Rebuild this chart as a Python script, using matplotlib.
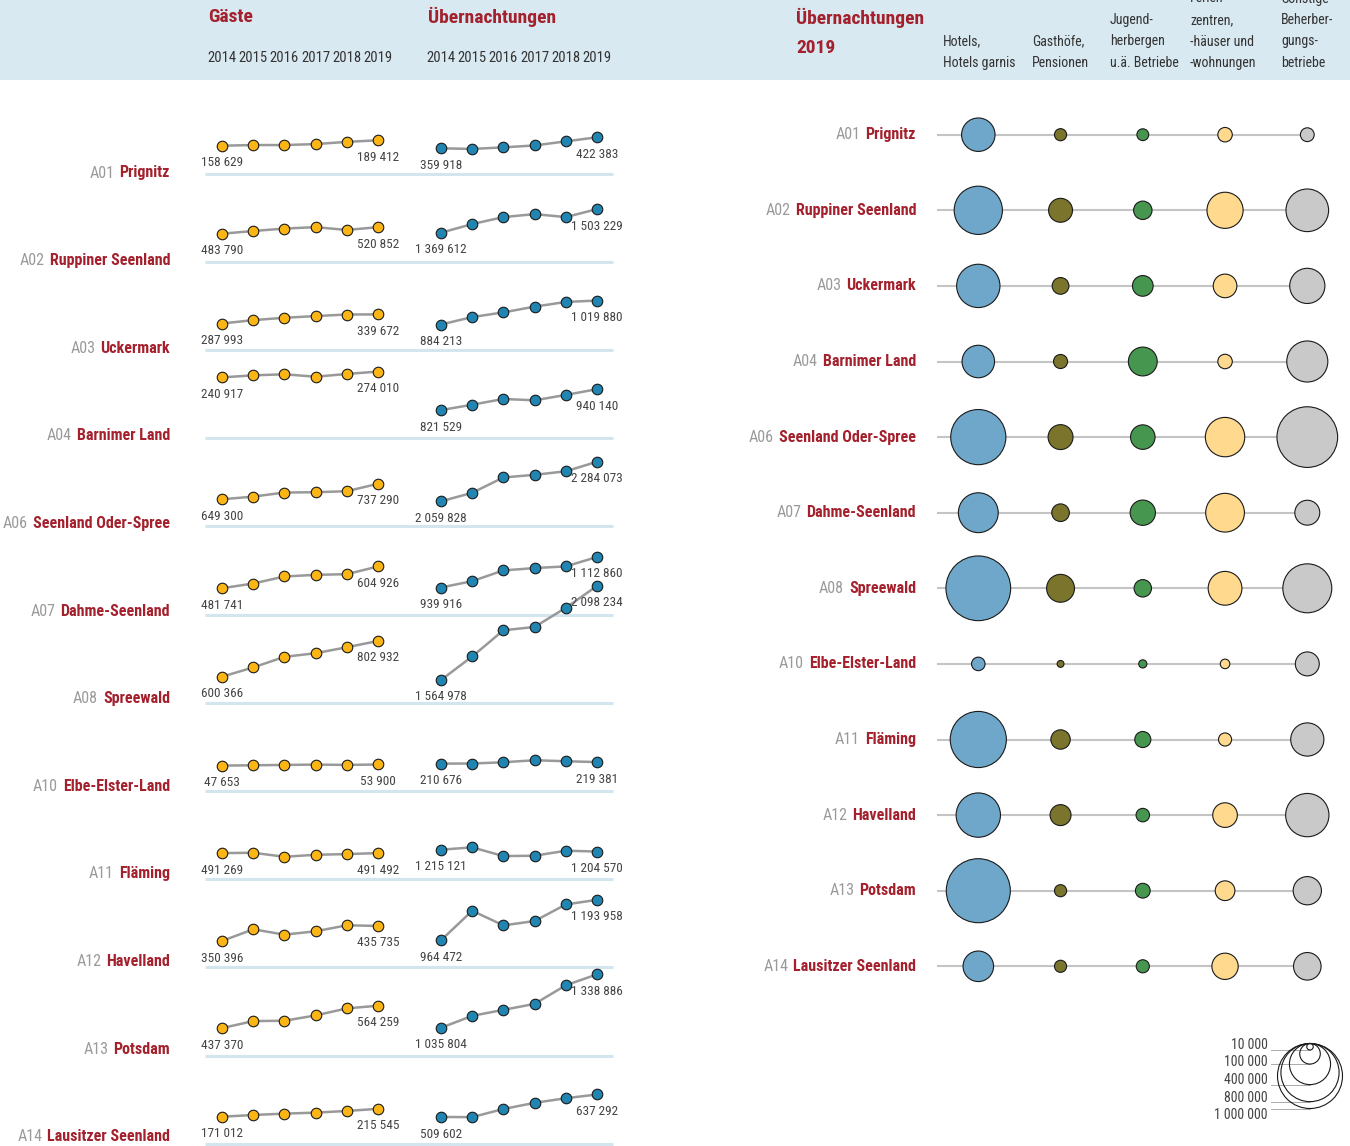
import numpy as np
import matplotlib
matplotlib.use('Agg')
import matplotlib.pyplot as plt
from matplotlib import font_manager
from matplotlib.patches import Rectangle

# pick a condensed face if one is there
_names = {f.name for f in font_manager.fontManager.ttflist}
FONT = 'DejaVu Sans'
for cand in ['Liberation Sans Narrow', 'Roboto Condensed', 'Open Sans Condensed']:
    if cand in _names:
        FONT = cand
        break
plt.rcParams['font.family'] = [FONT, 'DejaVu Sans']
if FONT == 'DejaVu Sans':
    plt.rcParams['font.stretch'] = 'condensed'

W, H = 1350, 1146

# Data
codes = ['A01', 'A02', 'A03', 'A04', 'A06', 'A07', 'A08', 'A10', 'A11', 'A12', 'A13', 'A14']
names = ['Prignitz', 'Ruppiner Seenland', 'Uckermark', 'Barnimer Land', 'Seenland Oder-Spree',
         'Dahme-Seenland', 'Spreewald', 'Elbe-Elster-Land', 'Fläming', 'Havelland', 'Potsdam',
         'Lausitzer Seenland']
years = [2014, 2015, 2016, 2017, 2018, 2019]

gaeste = [
    [158629, 162300, 162300, 167700, 180400, 189412],
    [483790, 499000, 513000, 521000, 505000, 520852],
    [287993, 307100, 320500, 330100, 339000, 339672],
    [240917, 252600, 258500, 244800, 260400, 274010],
    [649300, 664600, 687600, 689500, 695200, 737290],
    [481741, 508300, 548100, 557500, 561300, 604926],
    [600366, 652900, 712900, 733600, 767300, 802932],
    [47653, 49500, 51500, 53400, 51500, 53900],
    [491269, 493200, 470400, 481800, 485600, 491492],
    [350396, 416800, 386400, 405400, 439500, 435735],
    [437370, 477100, 479000, 509300, 549100, 564259],
    [171012, 180700, 188400, 194100, 203600, 215545],
]
uebernachtungen = [
    [359918, 356300, 365300, 376000, 399200, 422383],
    [1369612, 1418500, 1458100, 1475000, 1458100, 1503229],
    [884213, 926300, 953000, 985500, 1012200, 1019880],
    [821529, 852100, 884700, 877000, 907600, 940140],
    [2059828, 2108000, 2195000, 2210000, 2230000, 2284073],
    [939916, 976000, 1036800, 1050100, 1059600, 1112860],
    [1564978, 1698300, 1846800, 1865800, 1974300, 2098234],
    [210676, 211000, 218300, 229700, 224000, 219381],
    [1215121, 1228400, 1179000, 1180900, 1209400, 1204570],
    [964472, 1131900, 1049100, 1073600, 1167600, 1193958],
    [1035804, 1103600, 1137500, 1171400, 1276800, 1338886],
    [509602, 509000, 555000, 590000, 616000, 637292],
]

# Übernachtungen 2019 by type of establishment
types_header = [['Hotels,', 'Hotels garnis'],
                ['Gasthöfe,', 'Pensionen'],
                ['Jugend-', 'herbergen', 'u.ä. Betriebe'],
                ['Ferien-', 'zentren,', '-häuser und', '-wohnungen'],
                ['Sonstige', 'Beherber-', 'gungs-', 'betriebe']]
hotels = [265000, 551000, 444000, 250000, 720000, 376000, 991000, 43100, 746000, 465000, 970000, 220600]
gasthoefe = [34700, 135600, 66300, 47000, 147000, 73500, 184000, 11200, 89000, 104000, 34700, 34700]
jugendherbergen = [33000, 80300, 101000, 197000, 142000, 151400, 71900, 15800, 61000, 43100, 51700, 40600]
ferienwohnungen = [49600, 309000, 132000, 49600, 367000, 355000, 270000, 21600, 40600, 143500, 91800, 163700]
sonstige = [45000, 430000, 293000, 399000, 871000, 147000, 567000, 135600, 261000, 444000, 189000, 180000]
legend_values = [10000, 100000, 400000, 800000, 1000000]

# Style
RED = '#a3202c'
CODE_GREY = '#9a9a9a'
TEXT = '#333333'
GOLD = '#fbb616'
BLUE = '#2185b2'
LINE = '#999999'
BAND = '#d9e9f1'
BASE = '#d3e5ee'
type_colors = ['#6fa7ca', '#7b742d', '#479650', '#fed98e', '#c9c9c9']

# layout (pixels)
BASE0, ROW_H = 173.5, 88.2          # sparkline rows
LABEL0, LABEL_H = 173, 87.6         # region labels next to sparklines
YEAR_PX = 31.2
SPARK_X0 = {'g': 222, 'u': 441}
VAL_PER_PX = 5670
first_off_g = [27.8, 28, 26.4, 60.7, 27, 26.3, 26, 25.3, 26, 26.3, 27.4, 27]
first_off_u = [25.2, 29, 25.4, 28, 25, 27, 22.7, 27.3, 29.4, 27, 27.7, 26.7]
BUB_X0, BUB_DX = 978.3, 82.25        # bubble columns
BUB_Y0, BUB_DY = 134.7, 75.6         # bubble rows
D_1M = 65                            # bubble diameter (px) for 1 000 000


def fmt(v):
    return f'{v:,}'.replace(',', ' ')


def bubble_s(v):
    d_pt = 0.72 * D_1M * np.sqrt(np.asarray(v) / 1e6)
    return d_pt ** 2


fig = plt.figure(figsize=(W / 100, H / 100), dpi=100)


def px_axes(x0, y0, x1, y1, zorder=1):
    ax = fig.add_axes([x0 / W, 1 - y1 / H, (x1 - x0) / W, (y1 - y0) / H], zorder=zorder)
    ax.axis('off')
    return ax


ov = px_axes(0, 0, W, H, zorder=0)
ov.set_xlim(0, W)
ov.set_ylim(H, 0)
ov.add_patch(Rectangle((0, 0), W, 80, color=BAND, lw=0))

renderer = fig.canvas.get_renderer()


def region_label(x, y, code, name):
    t = ov.text(x, y, name, ha='right', va='center', fontsize=11.5, fontweight='bold', color=RED)
    w = t.get_window_extent(renderer).width
    ov.text(x - w - 5, y, code, ha='right', va='center', fontsize=11.5, color=CODE_GREY)


# header: sparklines
ov.text(208, 17, 'Gäste', ha='left', va='center', fontsize=14, fontweight='bold', color=RED)
ov.text(428, 17, 'Übernachtungen', ha='left', va='center', fontsize=14, fontweight='bold', color=RED)
for key in ('g', 'u'):
    for j, yr in enumerate(years):
        ov.text(SPARK_X0[key] + j * YEAR_PX, 58, str(yr), ha='center', va='center',
                fontsize=10.5, color=TEXT)

# header: bubbles
ov.text(796, 18, 'Übernachtungen', ha='left', va='center', fontsize=14, fontweight='bold', color=RED)
ov.text(796, 48, '2019', ha='left', va='center', fontsize=14, fontweight='bold', color=RED)
head_left = [943, 1032, 1110, 1190, 1281]
for lines, xl in zip(types_header, head_left):
    for k, line in enumerate(reversed(lines)):
        ov.text(xl, 63 - 21.5 * k, line, ha='left', va='center', fontsize=10, color=TEXT)

# sparklines
for i in range(len(codes)):
    yb = BASE0 + ROW_H * i
    ov.plot([205, 613], [yb, yb], color=BASE, lw=2.2, solid_capstyle='butt')
    region_label(170, LABEL0 + LABEL_H * i, codes[i], names[i])
    for key, series, col, offs in (('g', gaeste, GOLD, first_off_g),
                                   ('u', uebernachtungen, BLUE, first_off_u)):
        vals = series[i]
        x0 = SPARK_X0[key]
        ax = px_axes(x0 - 20, yb - 88, x0 + 5 * YEAR_PX + 20, yb, zorder=2)
        ax.set_xlim(years[0] - 20 / YEAR_PX, years[-1] + 20 / YEAR_PX)
        lo = vals[0] - offs[i] * VAL_PER_PX
        ax.set_ylim(lo, lo + 88 * VAL_PER_PX)
        ax.plot(years, vals, color=LINE, lw=1.8, zorder=1, clip_on=False)
        ax.plot(years, vals, 'o', ms=7.6, mfc=col, mec='#1a1a1a', mew=0.8,
                zorder=2, clip_on=False)
        for j in (0, -1):
            ax.annotate(fmt(vals[j]), (years[j], vals[j]), xytext=(0, -17),
                        textcoords='offset pixels', ha='center', va='center',
                        fontsize=9.5, color='#444444', annotation_clip=False)

# bubbles
axb = px_axes(900, 90, 1350, 1010, zorder=2)
axb.set_xlim(-(BUB_X0 - 900) / BUB_DX, 4 + (1350 - (BUB_X0 + 4 * BUB_DX)) / BUB_DX)
axb.set_ylim(11 + (1010 - (BUB_Y0 + 11 * BUB_DY)) / BUB_DY, -(BUB_Y0 - 90) / BUB_DY)
rows = np.arange(len(codes))
axb.hlines(rows, -0.5, 4, color='#c4c4c4', lw=1.5, zorder=1)
for k, (vals, col) in enumerate(zip([hotels, gasthoefe, jugendherbergen, ferienwohnungen, sonstige],
                                    type_colors)):
    axb.scatter(np.full(len(vals), k), rows, s=bubble_s(vals), color=col,
                edgecolors='#1a1a1a', linewidths=0.8, zorder=3, clip_on=False)
for i in range(len(codes)):
    region_label(916, BUB_Y0 + BUB_DY * i, codes[i], names[i])

# size legend
axl = px_axes(1180, 1020, 1350, 1146, zorder=2)
axl.set_xlim(1180, 1350)
axl.set_ylim(1146, 1020)
LEG_CX, LEG_TOP = 1310, 1043.5
for k, v in enumerate(legend_values):
    r = D_1M / 2 * np.sqrt(v / 1e6)
    axl.plot([1271, LEG_CX], [LEG_TOP + 2 * r] * 2, color='#aaaaaa', lw=0.7, zorder=1)
    axl.scatter([LEG_CX], [LEG_TOP + r], s=bubble_s(v), facecolors='none',
                edgecolors='#1a1a1a', linewidths=0.8, zorder=2, clip_on=False)
    axl.text(1268, 1045 + 17.5 * k, fmt(v), ha='right', va='center', fontsize=10, color='#444444')

fig.savefig('out.png', dpi=100)
